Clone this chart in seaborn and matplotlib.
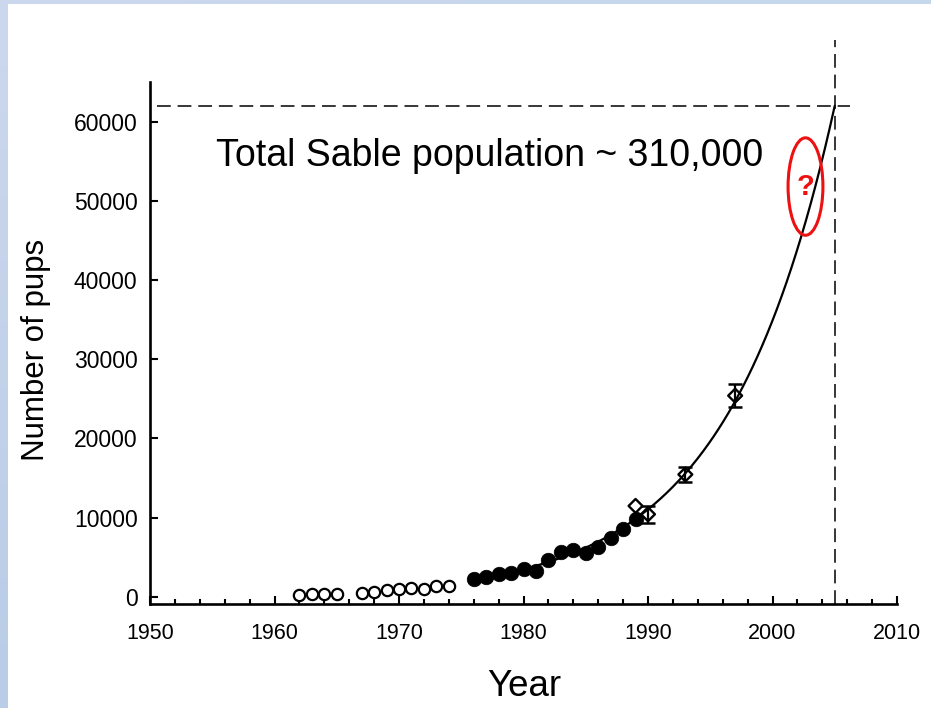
import numpy as np
import pandas as pd
import matplotlib
matplotlib.use("Agg")
import matplotlib.pyplot as plt
from matplotlib.patches import Ellipse
from matplotlib.ticker import MultipleLocator
import seaborn as sns

# Pup counts, early ground counts (open circles)
early_years = [1962, 1963, 1964, 1965, 1967, 1968, 1969, 1970, 1971, 1972, 1973, 1974]
early_pups = [200, 350, 330, 350, 500, 650, 850, 950, 1100, 1050, 1350, 1350]

# Annual censuses (filled circles)
census_years = [1976, 1977, 1978, 1979, 1980, 1981, 1982, 1983, 1984, 1985,
                1986, 1987, 1988, 1989]
census_pups = [2230, 2480, 2900, 3060, 3490, 3280, 4670, 5640, 5930, 5590,
               6340, 7400, 8580, 9870]

# Photographic surveys with uncertainty (open diamonds)
survey_years = [1989, 1990, 1993, 1997]
survey_pups = [11480, 10430, 15450, 25400]
survey_err = [0, 1050, 900, 1450]

# Exponential growth model
model_start = 1976
model_end = 2005
pups_at_end = 62000
growth_rate = 0.115

x_ticks = [1950, 1960, 1970, 1980, 1990, 2000, 2010]
y_ticks = [0, 10000, 20000, 30000, 40000, 50000, 60000]

sns.set_theme(style="ticks")
plt.rcParams["font.family"] = ["Liberation Sans", "DejaVu Sans"]
plt.rcParams["text.color"] = "black"
plt.rcParams["axes.labelcolor"] = "black"
plt.rcParams["xtick.color"] = "black"
plt.rcParams["ytick.color"] = "black"

fig = plt.figure(figsize=(9.31, 7.08), dpi=100)
fig.patch.set_facecolor("white")

# soft blue frame strips along the left and top edges
strip = fig.add_axes([0, 0, 8 / 931, 1], zorder=-5)
grad = np.linspace(0, 1, 256).reshape(-1, 1)
strip.imshow(grad, aspect="auto", cmap=matplotlib.colors.LinearSegmentedColormap.from_list(
    "frame", ["#ccd8ee", "#b9cde6"]), extent=[0, 1, 0, 1], origin="upper")
strip.set_axis_off()
top = fig.add_axes([0, 1 - 4 / 708, 1, 4 / 708], zorder=-5)
top.imshow(np.linspace(0, 1, 256).reshape(1, -1), aspect="auto",
           cmap=matplotlib.colors.LinearSegmentedColormap.from_list(
               "frame2", ["#ccd8ee", "#c7d6ec", "#c5d8ea"]), extent=[0, 1, 0, 1])
top.set_axis_off()

ax = fig.add_axes([150 / 931, 1 - 604 / 708, 747 / 931, 522 / 708])
ax.set_facecolor("none")

early_df = pd.DataFrame({"Year": early_years, "Pups": early_pups})
census_df = pd.DataFrame({"Year": census_years, "Pups": census_pups})

model_t = np.linspace(model_start, model_end, 300)
model_df = pd.DataFrame({"Year": model_t,
                         "Pups": pups_at_end * np.exp(growth_rate * (model_t - model_end))})

sns.lineplot(data=model_df, x="Year", y="Pups", ax=ax, color="black",
             linewidth=1.6, zorder=2)
sns.scatterplot(data=early_df, x="Year", y="Pups", ax=ax, marker="o", s=66,
                facecolor="white", edgecolor="black", linewidth=1.6, zorder=3)
sns.scatterplot(data=census_df, x="Year", y="Pups", ax=ax, marker="o", s=110,
                color="black", edgecolor="black", linewidth=0.5, zorder=3)

err = [e if e > 0 else np.nan for e in survey_err]
ax.errorbar(survey_years, survey_pups, yerr=err, fmt="none", ecolor="black",
            elinewidth=1.6, capsize=5, capthick=1.8, zorder=3)
ax.scatter(survey_years, survey_pups, marker="D", s=50, facecolor="none",
           edgecolor="black", linewidth=1.7, zorder=4)

# reference lines for the projected 2005 pup count
ax.plot([1950.6, 2006.2], [pups_at_end, pups_at_end], color="black",
        linewidth=1.1, dashes=(9, 4.5), clip_on=False, zorder=1)
ax.plot([model_end, model_end], [-900, 70300], color="black",
        linewidth=1.1, dashes=(9, 4.5), clip_on=False, zorder=1)

ax.text(1977.3, 55700, "Total Sable population ~ 310,000", fontsize=27,
        ha="center", va="center", color="black")

ax.add_patch(Ellipse((2002.65, 51800), width=2.8, height=12300, fill=False,
                     edgecolor="#ee1111", linewidth=2.2, zorder=5))
ax.text(2002.65, 51800, "?", color="#ee1111", fontsize=21, fontweight="bold",
        ha="center", va="center", zorder=5)

ax.set_xlim(1950, 2010)
ax.set_ylim(-900, 65000)
ax.set_xticks(x_ticks)
ax.set_yticks(y_ticks)
ax.xaxis.set_minor_locator(MultipleLocator(2))
ax.set_xticklabels([str(v) for v in x_ticks], fontsize=15.5)
ax.set_yticklabels([str(v) for v in y_ticks], fontsize=16.5)
ax.tick_params(axis="x", which="major", direction="in", length=6, width=1.5, pad=14)
ax.tick_params(axis="x", which="minor", direction="in", length=3.5, width=1.5)
ax.tick_params(axis="y", which="major", direction="in", length=6, width=1.5, pad=9)

ax.set_xlabel("Year", fontsize=26.5)
ax.set_ylabel("Number of pups", fontsize=22.5)
ax.xaxis.set_label_coords(0.5007, -0.125)
ax.yaxis.set_label_coords(-0.133, 0.487)

sns.despine(ax=ax)
for side in ("left", "bottom"):
    ax.spines[side].set_linewidth(1.9)
    ax.spines[side].set_color("black")

fig.savefig("out.png", dpi=100)
